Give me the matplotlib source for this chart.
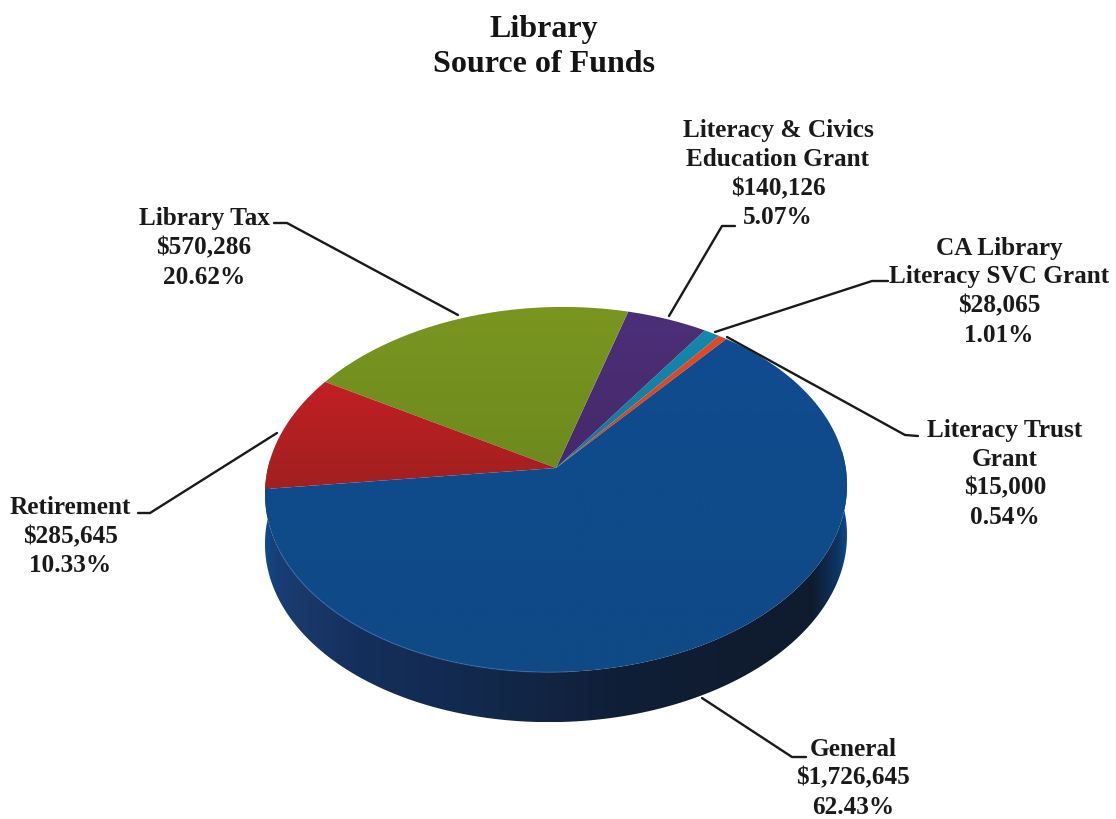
import numpy as np
import matplotlib
matplotlib.use("Agg")
import matplotlib.pyplot as plt
from matplotlib.colors import LinearSegmentedColormap
from matplotlib.patches import Polygon

# Funding sources, counter-clockwise from the start angle
names = ["Literacy Trust\nGrant", "CA Library\nLiteracy SVC Grant",
         "Literacy & Civics\nEducation Grant", "Library Tax", "Retirement", "General"]
amounts = [15000, 28065, 140126, 570286, 285645, 1726645]
percents = ["0.54%", "1.01%", "5.07%", "20.62%", "10.33%", "62.43%"]
face_top = ["#e8481f", "#1488ad", "#4b2f78", "#7a9620", "#c22024", "#0f4c8f"]
face_bottom = ["#d8431f", "#12789c", "#46296a", "#6d8a1e", "#a11f20", "#0f4986"]

label_centers = [(1005, 430), (999, 248), (778, 131), (204, 219), (70, 508), (853, 749)]
leaders = [
    [(727, 337), (905, 435), (918, 436)],
    [(715, 332), (872, 281), (888, 281)],
    [(669, 316), (722, 226), (735, 226)],
    [(458, 315), (287, 223), (274, 223)],
    [(277, 433), (150, 513), (138, 513)],
    [(702, 698), (792, 757), (806, 757)],
]

# Disc geometry in figure pixels
APEX_X, APEX_Y = 556, 468
SCALE_X, SCALE_Y = 289, 180
TILT = 0.118
SHEAR = 0.015
DEPTH = 50
START_DEG = 50


def project(theta, r=1.0):
    """Perspective projection of polar disc coordinates to the page."""
    x, y = r * np.cos(theta), r * np.sin(theta)
    w = 1 + TILT * y
    px = SCALE_X * x / w
    py = -SCALE_Y * y / w - SHEAR * px
    return APEX_X + px, APEX_Y + py


def gradient_fill(ax, pts, cmap, vertical=True, zorder=2):
    pts = np.asarray(pts)
    xmin, ymin = pts.min(axis=0)
    xmax, ymax = pts.max(axis=0)
    ramp = np.linspace(0, 1, 256)
    data = ramp[:, None] if vertical else ramp[None, :]
    im = ax.imshow(data, cmap=cmap, extent=(xmin, xmax, ymax, ymin), origin="upper",
                   aspect="auto", interpolation="bilinear", zorder=zorder, vmin=0, vmax=1)
    im.set_clip_path(Polygon(pts, closed=True, transform=ax.transData))


fig = plt.figure(figsize=(11.16, 8.19), dpi=100, facecolor="white")
ax = fig.add_axes([0, 0, 1, 1])
ax.axis("off")

# Side wall, shaded left to right
rim = np.radians(np.linspace(176, 364, 377))
rx, ry = project(rim)
side_pts = np.column_stack([np.r_[rx, rx[::-1]], np.r_[ry, ry[::-1] + DEPTH]])
side_cmap = LinearSegmentedColormap.from_list("side", [
    (0.0, "#124a8a"), (0.012, "#15407a"), (0.05, "#1a3a6c"), (0.16, "#152f5c"),
    (0.4, "#12284a"), (0.6, "#101f38"), (0.85, "#0f1b2e"), (0.94, "#0f1b2e"),
    (0.985, "#0e3566"), (1.0, "#0f4a8a"),
])
gradient_fill(ax, side_pts, side_cmap, vertical=False, zorder=1)

# Top face slices
share = np.array(amounts) / np.sum(amounts)
edges = np.radians(START_DEG + 360 * np.r_[0, np.cumsum(share)])
for i in range(len(amounts)):
    arc = np.linspace(edges[i], edges[i + 1], max(4, int(share[i] * 720)))
    ax_x, ax_y = project(arc)
    pts = np.column_stack([np.r_[APEX_X, ax_x], np.r_[APEX_Y, ax_y]])
    cmap = LinearSegmentedColormap.from_list(f"s{i}", [face_top[i], face_bottom[i]])
    gradient_fill(ax, pts, cmap, zorder=2 + i * 0.01)

# Faint highlight along the front-left edge of the top face
hl = np.radians(np.linspace(205, 272, 80))
hx, hy = project(hl)
ax.plot(hx, hy, color="#3568a8", lw=1.0, alpha=0.6, zorder=3)

# Leader lines
for path in leaders:
    xs, ys = zip(*path)
    ax.plot(xs, ys, color="#1a1a1a", lw=1.7, solid_capstyle="round", zorder=4)

# Data labels
text_style = dict(family="Liberation Serif", fontweight="bold", color="#1a1a1a",
                  ha="center", va="center", fontsize=18.2)
LINE_STEP = 29
for name, amount, pct, (cx, cy) in zip(names, amounts, percents, label_centers):
    rows = name.split("\n") + [f"${amount:,}", pct]
    for k, row in enumerate(rows):
        ax.text(cx, cy + k * LINE_STEP, row, **text_style)

# Title
title_style = dict(text_style, fontsize=23, color="#141414")
ax.text(544, 29, "Library", **title_style)
ax.text(544, 65, "Source of Funds", **title_style)

ax.set_xlim(0, 1116)
ax.set_ylim(819, 0)
fig.savefig("out.png", dpi=100, facecolor="white")
